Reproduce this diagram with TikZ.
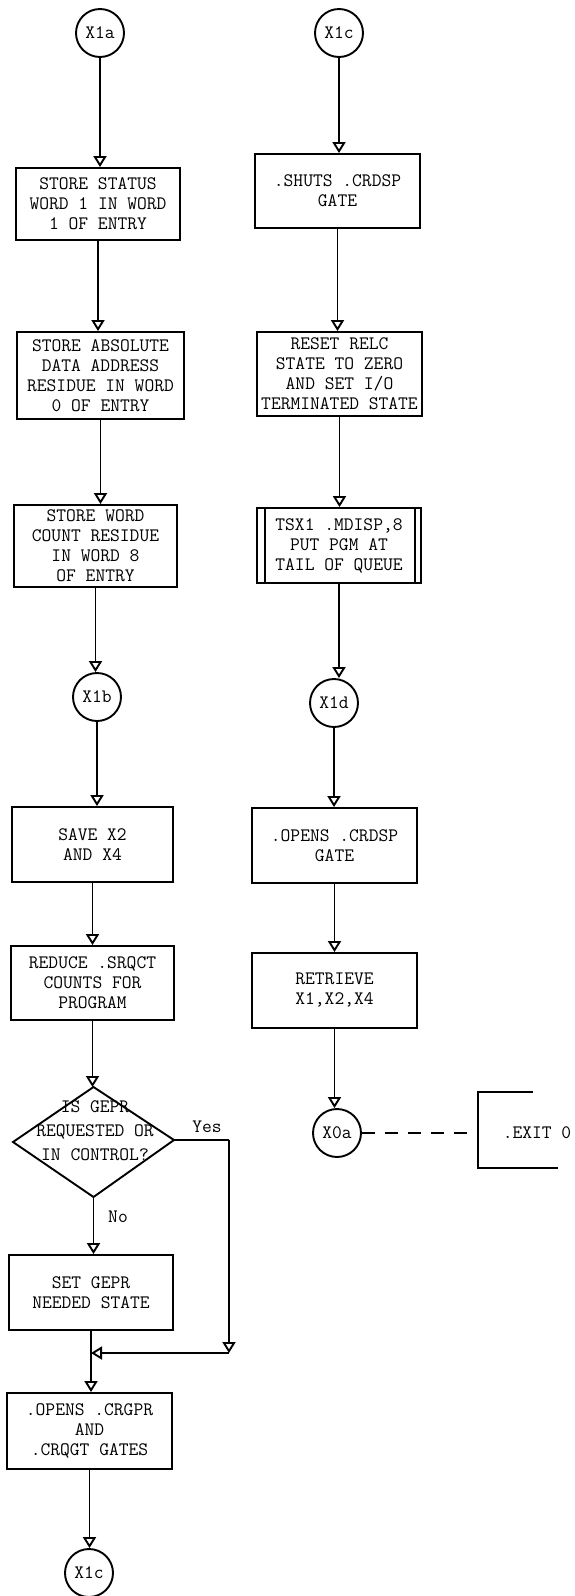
\documentclass[tikz,border=0pt]{standalone}
\usetikzlibrary{arrows.meta}
\begin{document}
\begin{tikzpicture}[x=1pt,y=-1pt,
  every node/.style={font=\fontsize{19}{20}\selectfont\ttfamily, inner sep=0pt},
  proc/.style={draw, line width=1.9pt, rectangle, align=center},
  conn/.style={draw, circle, line width=1.9pt, minimum size=48pt},
  arr/.style={line width=1.9pt, -{Triangle[open, length=11pt, width=13pt]}},
  line/.style={line width=1.9pt},
]
\useasboundingbox (0,0) rectangle (574,1596);

% ---------- left column ----------
\node[conn] (X1a) at (100,33) {X1a};
\node[proc, minimum width=164pt, minimum height=72pt] (B1) at (98,204)
  {STORE STATUS\\WORD 1 IN WORD\\1 OF ENTRY};
\node[proc, minimum width=167pt, minimum height=87pt] (B2) at (100.5,375.5)
  {STORE ABSOLUTE\\DATA ADDRESS\\RESIDUE IN WORD\\0 OF ENTRY};
\node[proc, minimum width=163pt, minimum height=82pt] (B3) at (95.5,546)
  {STORE WORD\\COUNT RESIDUE\\IN WORD 8\\OF ENTRY};
\node[conn] (X1b) at (97,697) {X1b};
\node[proc, minimum width=161pt, minimum height=75pt] (B4) at (92.5,844.5)
  {SAVE X2\\AND X4};
\node[proc, minimum width=163pt, minimum height=74pt] (B5) at (92.5,983)
  {REDUCE .SRQCT\\COUNTS FOR\\PROGRAM};
\coordinate (Dt) at (93.5,1087);
\coordinate (Dr) at (174,1140);
\coordinate (Db) at (93.5,1197);
\coordinate (Dl) at (13,1142);
\draw[line, line join=miter] (Dt) -- (Dr) -- (Db) -- (Dl) -- cycle;
\node[align=center, font=\fontsize{19}{24}\selectfont\ttfamily] (D) at (95,1131)
  {IS GEPR\\REQUESTED OR\\IN CONTROL?};
\node (yes) at (207,1127) {Yes};
\node (no) at (118,1217) {No};
\node[proc, minimum width=164pt, minimum height=75pt] (B6) at (91,1292.5)
  {SET GEPR\\NEEDED STATE};
\coordinate (YesC) at (229,1140);
\coordinate (MR) at (229,1353);
\coordinate (M) at (91,1353);
\node[proc, minimum width=165pt, minimum height=76pt] (B7) at (89.5,1431)
  {.OPENS .CRGPR\\AND\\.CRQGT GATES};
\node[conn] (X1cb) at (89,1573) {X1c};

\draw[arr] (X1a) -- (X1a |- B1.north);
\draw[arr] (B1) -- (B1 |- B2.north);
\draw[arr] (B2) -- (B2 |- B3.north);
\draw[arr] (B3) -- (B3 |- X1b.north);
\draw[arr] (X1b) -- (X1b |- B4.north);
\draw[arr] (B4) -- (B4 |- B5.north);
\draw[arr] (B5) -- (B5 |- Dt);
\draw[arr] (Db) -- (Db |- B6.north);
\draw[line] (Dr) -- (YesC);
\draw[arr] (YesC) -- (MR);
\draw[arr] (MR) -- (M);
\draw[arr] (B6) -- (B6 |- B7.north);
\draw[arr] (B7) -- (B7 |- X1cb.north);

% ---------- right column ----------
\node[conn] (X1ct) at (339,33) {X1c};
\node[proc, minimum width=165pt, minimum height=74pt] (R1) at (337.5,191)
  {.SHUTS .CRDSP\\GATE};
\node[proc, minimum width=165pt, minimum height=84pt] (R2) at (339.5,374)
  {RESET RELC\\STATE TO ZERO\\AND SET I/O\\TERMINATED STATE};
\node[proc, minimum width=164pt, minimum height=75pt] (R3) at (339,545.5)
  {TSX1 .MDISP,8\\PUT PGM AT\\TAIL OF QUEUE};
\draw[line] ([xshift=9pt]R3.north west) -- ([xshift=9pt]R3.south west);
\draw[line] ([xshift=-7pt]R3.north east) -- ([xshift=-7pt]R3.south east);
\node[conn] (X1d) at (334,703) {X1d};
\node[proc, minimum width=165pt, minimum height=75pt] (R4) at (334.5,845.5)
  {.OPENS .CRDSP\\GATE};
\node[proc, minimum width=165pt, minimum height=75pt] (R5) at (334.5,990.5)
  {RETRIEVE\\X1,X2,X4};
\node[conn] (X0a) at (337,1133) {X0a};

\draw[arr] (X1ct) -- (X1ct |- R1.north);
\draw[arr] (R1) -- (R1 |- R2.north);
\draw[arr] (R2) -- (R2 |- R3.north);
\draw[arr] (R3) -- (R3 |- X1d.north);
\draw[arr] (X1d) -- (X1d |- R4.north);
\draw[arr] (R4) -- (R4 |- R5.north);
\draw[arr] (R5) -- (R5 |- X0a.north);

% ---------- exit annotation ----------
\coordinate (ExL) at (478,1133);
\coordinate (ExT) at (478,1092);
\coordinate (ExT2) at (533,1092);
\coordinate (ExB) at (478,1168);
\coordinate (ExB2) at (558,1168);
\draw[line, dash pattern=on 13pt off 10pt] (X0a) -- (ExL);
\draw[line] (ExT2) -- (ExT) -- (ExB) -- (ExB2);
\node (exit) at (537,1133) {.EXIT 0};
\end{tikzpicture}
\end{document}
